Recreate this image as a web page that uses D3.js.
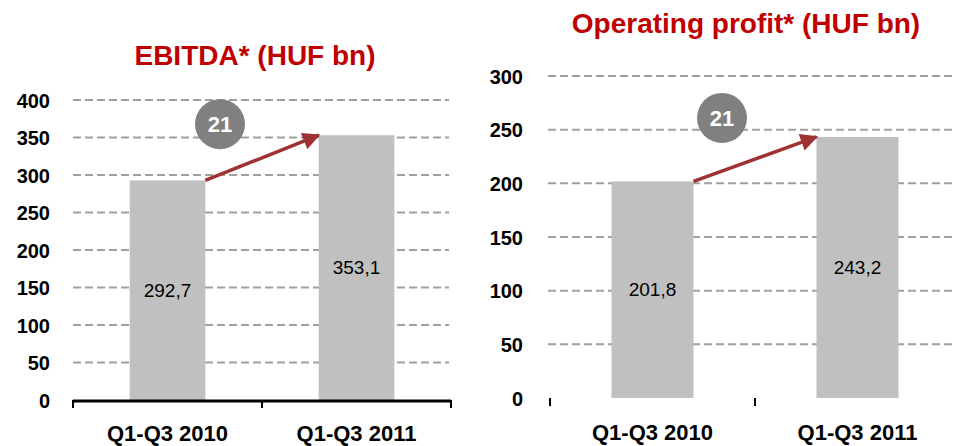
<!DOCTYPE html>
<html>
<head>
<meta charset="utf-8">
<script src="https://cdn.jsdelivr.net/npm/d3@7"></script>
<style>
  body { margin: 0; background: #fff; }
  svg { display: block; font-family: "Liberation Sans", Arial, sans-serif; }
</style>
</head>
<body>
<div id="graph"></div>
<script>
// chart data
var categories = [ "Q1-Q3 2010", "Q1-Q3 2011" ];
var ebitdaValues = [ 292.7, 353.1 ];
var operatingValues = [ 201.8, 243.2 ];
var ebitdaTicks = [ 0, 50, 100, 150, 200, 250, 300, 350, 400 ];
var operatingTicks = [ 0, 50, 100, 150, 200, 250, 300 ];
var changeLabels = [ "21", "21" ];
var titles = [ "EBITDA* (HUF bn)", "Operating profit* (HUF bn)" ];

var width = 953, height = 446;

var svg = d3.select( "#graph" ).append( "svg" )
    .attr( "width", width )
    .attr( "height", height );

// arrow head
svg.append( "defs" ).append( "marker" )
    .attr( "id", "arrow" )
    .attr( "viewBox", "0 0 10 10" )
    .attr( "refX", 9 )
    .attr( "refY", 5 )
    .attr( "markerWidth", 5.5 )
    .attr( "markerHeight", 5 )
    .attr( "orient", "auto" )
  .append( "path" )
    .attr( "d", "M0,0 L10,5 L0,10 Z" )
    .attr( "fill", "#9e3232" );

// layout of each panel
var panels = [
  { values: ebitdaValues, ticks: ebitdaTicks, badge: changeLabels[ 0 ], title: titles[ 0 ],
    xRange: [ 73, 451 ], yRange: [ 400, 100 ], gridX: [ 73, 449 ], labelX: 50,
    titleX: 255, titleY: 65, catY: 441, baseLine: true, badgeDx: -42, badgeDy: -11 },
  { values: operatingValues, ticks: operatingTicks, badge: changeLabels[ 1 ], title: titles[ 1 ],
    xRange: [ 550, 960 ], yRange: [ 398, 76 ], gridX: [ 548, 953 ], labelX: 523,
    titleX: 746, titleY: 33, catY: 440, baseLine: false, badgeDx: -33, badgeDy: -19 }
];

panels.forEach( function( p ){

  var x = d3.scaleBand()
      .domain( categories )
      .range( p.xRange )
      .paddingInner( 0.6 )
      .paddingOuter( 0.3 );

  var y = d3.scaleLinear()
      .domain( d3.extent( p.ticks ) )
      .range( p.yRange );

  var g = svg.append( "g" );

  // title
  g.append( "text" )
      .attr( "x", p.titleX )
      .attr( "y", p.titleY )
      .attr( "text-anchor", "middle" )
      .attr( "font-size", 28 )
      .attr( "font-weight", "bold" )
      .attr( "fill", "#c00000" )
      .text( p.title );

  // dashed grid lines
  g.selectAll( ".grid" )
      .data( p.ticks.filter( function( t ){ return t > 0; } ) )
    .enter().append( "line" )
      .attr( "x1", p.gridX[ 0 ] )
      .attr( "x2", p.gridX[ 1 ] )
      .attr( "y1", function( d ){ return y( d ); } )
      .attr( "y2", function( d ){ return y( d ); } )
      .attr( "stroke", "#a0a0a0" )
      .attr( "stroke-width", 2 )
      .attr( "stroke-dasharray", "8,4" );

  // y tick labels
  g.selectAll( ".ylab" )
      .data( p.ticks )
    .enter().append( "text" )
      .attr( "x", p.labelX )
      .attr( "y", function( d ){ return y( d ); } )
      .attr( "dy", "0.38em" )
      .attr( "text-anchor", "end" )
      .attr( "font-size", 20 )
      .attr( "font-weight", "bold" )
      .text( function( d ){ return d; } );

  // bars
  g.selectAll( ".bar" )
      .data( p.values )
    .enter().append( "rect" )
      .attr( "x", function( d, i ){ return x( categories[ i ] ); } )
      .attr( "width", x.bandwidth() )
      .attr( "y", function( d ){ return y( d ); } )
      .attr( "height", function( d ){ return y( 0 ) - y( d ); } )
      .attr( "fill", "#c0c0c0" );

  // value labels
  g.selectAll( ".val" )
      .data( p.values )
    .enter().append( "text" )
      .attr( "x", function( d, i ){ return x( categories[ i ] ) + x.bandwidth() / 2; } )
      .attr( "y", function( d ){ return ( y( d ) + y( 0 ) ) / 2; } )
      .attr( "dy", "0.35em" )
      .attr( "text-anchor", "middle" )
      .attr( "font-size", 19 )
      .text( function( d ){ return String( d ).replace( ".", "," ); } );

  // x axis: baseline and ticks at the band edges
  var edges = d3.range( categories.length + 1 ).map( function( i ){
    return p.xRange[ 0 ] + i * x.step();
  } );
  if( p.baseLine ){
    g.append( "line" )
        .attr( "x1", p.xRange[ 0 ] )
        .attr( "x2", p.xRange[ 1 ] )
        .attr( "y1", y( 0 ) + 1 )
        .attr( "y2", y( 0 ) + 1 )
        .attr( "stroke", "#000" )
        .attr( "stroke-width", 3 );
  }
  g.selectAll( ".tick" )
      .data( edges )
    .enter().append( "line" )
      .attr( "x1", function( d ){ return d; } )
      .attr( "x2", function( d ){ return d; } )
      .attr( "y1", y( 0 ) )
      .attr( "y2", y( 0 ) + 8 )
      .attr( "stroke", "#000" )
      .attr( "stroke-width", 2 );

  // category labels
  g.selectAll( ".cat" )
      .data( categories )
    .enter().append( "text" )
      .attr( "x", function( d ){ return x( d ) + x.bandwidth() / 2; } )
      .attr( "y", p.catY )
      .attr( "text-anchor", "middle" )
      .attr( "font-size", 22 )
      .attr( "font-weight", "bold" )
      .text( function( d ){ return d; } );

  // growth arrow between bar tops
  var x1 = x( categories[ 0 ] ) + x.bandwidth(),
      y1 = y( p.values[ 0 ] ),
      x2 = x( categories[ 1 ] ),
      y2 = y( p.values[ 1 ] );
  g.append( "line" )
      .attr( "x1", x1 )
      .attr( "y1", y1 )
      .attr( "x2", x2 )
      .attr( "y2", y2 )
      .attr( "stroke", "#9e3232" )
      .attr( "stroke-width", 3.5 )
      .attr( "marker-end", "url(#arrow)" );

  // badge
  var cx = ( x1 + x2 ) / 2 + p.badgeDx,
      cy = y2 + p.badgeDy;
  g.append( "circle" )
      .attr( "cx", cx )
      .attr( "cy", cy )
      .attr( "r", 25 )
      .attr( "fill", "#808080" );
  g.append( "text" )
      .attr( "x", cx )
      .attr( "y", cy )
      .attr( "dy", "0.36em" )
      .attr( "text-anchor", "middle" )
      .attr( "font-size", 22 )
      .attr( "font-weight", "bold" )
      .attr( "fill", "#fff" )
      .text( p.badge );
} );
</script>
</body>
</html>
